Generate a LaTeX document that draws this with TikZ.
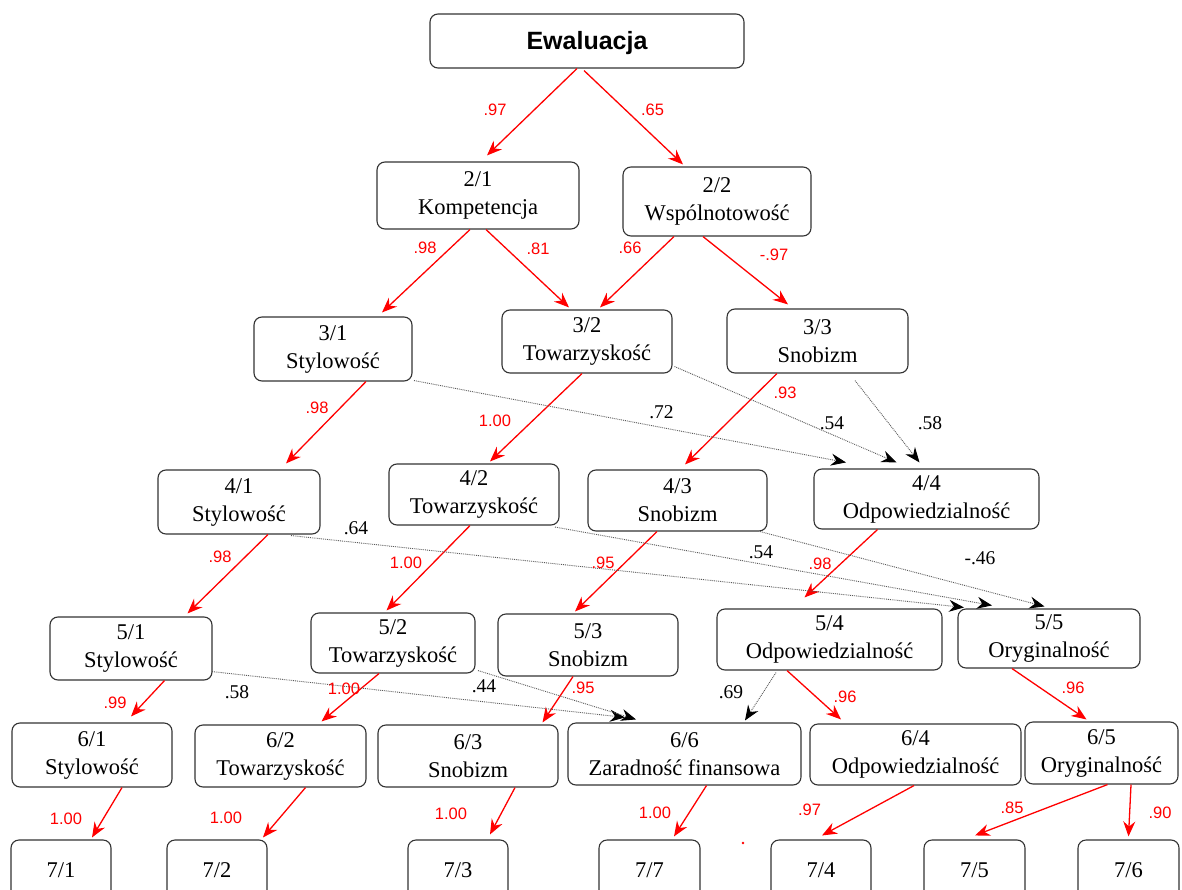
\documentclass[tikz,border=0pt]{standalone}
\usepackage{fontspec}
\setmainfont{Liberation Serif}
\newfontfamily\labsans{Liberation Sans}
\usetikzlibrary{arrows.meta}

\tikzset{
  box/.style={draw=black!80, line width=1.1pt, rounded corners=8pt, align=center,
    inner sep=0pt, font=\fontsize{22.5}{28}\selectfont},
  topbox/.style={box, font=\labsans\bfseries\fontsize{25}{30}\selectfont,
    text height=23pt, text depth=5pt},
  path/.style={draw=red, line width=1.3pt,
    -{Stealth[length=15pt,width=12pt,inset=5pt]}},
  link/.style={draw=black!65, line width=0.9pt, densely dotted,
    -{Stealth[black,length=15pt,width=12pt,inset=5pt]}},
  rlab/.style={text=red, font=\labsans\fontsize{16.5}{18}\selectfont, inner sep=0pt},
  blab/.style={text=black, font=\fontsize{19.5}{21}\selectfont, inner sep=0pt},
}

\begin{document}
\begin{tikzpicture}[x=1pt,y=-1pt]
\clip (0,0) rectangle (1182,890);
\fill[white] (0,0) rectangle (1182,890);

% level 1
\node[topbox, minimum width=314pt, minimum height=54pt] (ewa) at (587,41) {Ewaluacja};
% level 2
\node[box, minimum width=202pt, minimum height=67pt] (n21) at (478,195.5) {2/1\\Kompetencja};
\node[box, minimum width=188pt, minimum height=69pt] (n22) at (717,201.5) {2/2\\Wspólnotowość};
% level 3
\node[box, minimum width=158pt, minimum height=64pt] (n31) at (333,349) {3/1\\Stylowość};
\node[box, minimum width=170pt, minimum height=63pt] (n32) at (587,341.5) {3/2\\Towarzyskość};
\node[box, minimum width=181pt, minimum height=64pt] (n33) at (817.5,341) {3/3\\Snobizm};
% level 4
\node[box, minimum width=162pt, minimum height=64pt] (n41) at (239,502) {4/1\\Stylowość};
\node[box, minimum width=170pt, minimum height=61pt] (n42) at (474,494.5) {4/2\\Towarzyskość};
\node[box, minimum width=179pt, minimum height=61pt] (n43) at (677.5,500.5) {4/3\\Snobizm};
\node[box, minimum width=225pt, minimum height=60pt] (n44) at (926.5,499) {4/4\\Odpowiedzialność};
% level 5
\node[box, minimum width=162pt, minimum height=63pt] (n51) at (131,648.5) {5/1\\Stylowość};
\node[box, minimum width=164pt, minimum height=60pt] (n52) at (393,643) {5/2\\Towarzyskość};
\node[box, minimum width=180pt, minimum height=62pt] (n53) at (588,645) {5/3\\Snobizm};
\node[box, minimum width=225pt, minimum height=61pt] (n54) at (829.5,639.5) {5/4\\Odpowiedzialność};
\node[box, minimum width=182pt, minimum height=59pt] (n55) at (1049,638.5) {5/5\\Oryginalność};
% level 6
\node[box, minimum width=160pt, minimum height=64pt] (n61) at (92,755) {6/1\\Stylowość};
\node[box, minimum width=171pt, minimum height=62pt] (n62) at (280.5,756) {6/2\\Towarzyskość};
\node[box, minimum width=180pt, minimum height=62pt] (n63) at (468,756) {6/3\\Snobizm};
\node[box, minimum width=233pt, minimum height=62pt] (n66) at (684.5,754) {6/6\\Zaradność finansowa};
\node[box, minimum width=211pt, minimum height=61pt] (n64) at (915.5,754.5) {6/4\\Odpowiedzialność};
\node[box, minimum width=153pt, minimum height=62pt] (n65) at (1101.5,753) {6/5\\Oryginalność};
% level 7
\node[box, minimum width=100pt, minimum height=60pt] (n71) at (61,870) {7/1};
\node[box, minimum width=100pt, minimum height=60pt] (n72) at (217,870) {7/2};
\node[box, minimum width=100pt, minimum height=60pt] (n73) at (458,870) {7/3};
\node[box, minimum width=101pt, minimum height=60pt] (n77) at (649.5,870) {7/7};
\node[box, minimum width=100pt, minimum height=60pt] (n74) at (821,870) {7/4};
\node[box, minimum width=101pt, minimum height=60pt] (n75) at (974.5,870) {7/5};
\node[box, minimum width=101pt, minimum height=60pt] (n76) at (1128.5,870) {7/6};

% main paths
\draw[path] ([xshift=-10pt]ewa.south) -- ([xshift=9pt,yshift=6pt]n21.north);
\draw[path] ([xshift=-3pt,yshift=-2pt]ewa.south) -- ([xshift=-34pt,yshift=2pt]n22.north);
\draw[path] ([xshift=-8pt]n21.south) -- ([xshift=49pt,yshift=4pt]n31.north);
\draw[path] ([xshift=8pt]n21.south) -- ([xshift=-18pt,yshift=2pt]n32.north);
\draw[path] ([xshift=-43pt]n22.south) -- ([xshift=13pt,yshift=2pt]n32.north);
\draw[path] ([xshift=-14pt]n22.south) -- ([xshift=-29.5pt,yshift=4pt]n33.north);
\draw[path] ([xshift=33pt]n31.south) -- ([xshift=47pt,yshift=6pt]n41.north);
\draw[path] ([xshift=-5pt]n32.south) -- ([xshift=16pt,yshift=2pt]n42.north);
\draw[path] ([xshift=-40.5pt]n33.south) -- ([xshift=7.5pt,yshift=5pt]n43.north);
\draw[path] ([xshift=29pt]n41.south) -- ([xshift=56.5pt,yshift=3pt]n51.north);
\draw[path] ([xshift=-4pt]n42.south) -- ([xshift=-6.5pt,yshift=2pt]n52.north);
\draw[path] ([xshift=-20.5pt]n43.south) -- ([xshift=-13pt,yshift=2pt]n53.north);
\draw[path] ([xshift=-49pt]n44.south) -- ([xshift=-25pt,yshift=11pt]n54.north);
\draw[path] ([xshift=33.5pt]n51.south) -- ([xshift=39pt,yshift=6pt]n61.north);
\draw[path] ([xshift=-14pt]n52.south) -- ([xshift=41pt,yshift=3pt]n62.north);
\draw[path] ([xshift=-15pt]n53.south) -- ([xshift=74.5pt,yshift=2pt]n63.north);
\draw[path] ([xshift=-42.5pt]n54.south) -- ([xshift=-74.5pt,yshift=4pt]n64.north);
\draw[path] ([xshift=-37pt]n55.south) -- ([xshift=-15pt,yshift=2pt]n65.north);
\draw[path] ([xshift=30pt]n61.south) -- ([xshift=31pt,yshift=2pt]n71.north);
\draw[path] ([xshift=25pt]n62.south) -- ([xshift=46pt,yshift=2pt]n72.north);
\draw[path] ([xshift=47pt]n63.south) -- ([xshift=32pt,yshift=5pt]n73.north);
\draw[path] ([xshift=22pt]n66.south) -- ([xshift=24.5pt,yshift=3pt]n77.north);
\draw[path] ([xshift=-1.5pt]n64.south) -- ([xshift=1pt,yshift=4pt]n74.north);
\draw[path] ([xshift=6pt]n65.south) -- ([xshift=0.5pt,yshift=4pt]n75.north);
\draw[path] ([xshift=29.5pt]n65.south) -- ([xshift=0pt,yshift=3pt]n76.north);

% cross links
\draw[link] ([xshift=81pt,yshift=1pt]n31.south) -- ([xshift=-80.5pt,yshift=6pt]n44.north);
\draw[link] ([xshift=2pt,yshift=7pt]n32.south east) -- ([xshift=-30pt,yshift=6pt]n44.north);
\draw[link] ([xshift=37.5pt,yshift=-7pt]n33.south) -- ([xshift=-7pt,yshift=6pt]n44.north);
\draw[link] ([xshift=52pt,yshift=-1pt]n41.south) -- ([xshift=-85pt,yshift=1pt]n55.north);
\draw[link] ([xshift=81pt,yshift=-1.5pt]n42.south) -- ([xshift=-57pt,yshift=3pt]n55.north);
\draw[link] ([xshift=82.5pt]n43.south) -- ([xshift=-4.5pt,yshift=2pt]n55.north);
\draw[link] ([xshift=81pt,yshift=9pt]n51.south) -- ([xshift=-59.5pt,yshift=5pt]n66.north);
\draw[link] ([xshift=85pt,yshift=3pt]n52.south) -- ([xshift=-48.5pt,yshift=3pt]n66.north);
\draw[link] ([xshift=-53.5pt,yshift=-2pt]n54.south) -- ([xshift=60.5pt,yshift=2pt]n66.north);

% loadings on main paths
\node[rlab] (l01) at (495,110) {.97};
\node[rlab] (l02) at (652.5,110) {.65};
\node[rlab] (l03) at (425,248) {.98};
\node[rlab] (l04) at (538,249) {.81};
\node[rlab] (l05) at (630,248) {.66};
\node[rlab] (l06) at (774,255) {-.97};
\node[rlab] (l07) at (317,408) {.98};
\node[rlab] (l08) at (495,421) {1.00};
\node[rlab] (l09) at (785,393) {.93};
\node[rlab] (l10) at (220,557) {.98};
\node[rlab] (l11) at (406,563) {1.00};
\node[rlab] (l12) at (603,563) {.95};
\node[rlab] (l13) at (820,564) {.98};
\node[rlab] (l14) at (115,703) {.99};
\node[rlab] (l15) at (344,689) {1.00};
\node[rlab] (l16) at (583,688) {.95};
\node[rlab] (l17) at (845,697) {.96};
\node[rlab] (l18) at (1073,688) {.96};
\node[rlab] (l19) at (66,819) {1.00};
\node[rlab] (l20) at (226,818) {1.00};
\node[rlab] (l21) at (451,814) {1.00};
\node[rlab] (l22) at (655,813) {1.00};
\node[rlab] (l23) at (809.5,810) {.97};
\node[rlab] (l24) at (1012,808) {.85};
\node[rlab] (l25) at (1160,813) {.90};

% loadings on cross links
\node[blab] (k1) at (661.5,412) {.72};
\node[blab] (k2) at (832,423) {.54};
\node[blab] (k3) at (930,423) {.58};
\node[blab] (k4) at (356,528) {.64};
\node[blab] (k5) at (761,552) {.54};
\node[blab] (k6) at (980,558) {-.46};
\node[blab] (k7) at (237,692) {.58};
\node[blab] (k8) at (484,686) {.44};
\node[blab] (k9) at (731,692) {.69};

% stray mark
\fill[red] (743,843) circle (1.3pt);
\end{tikzpicture}
\end{document}
